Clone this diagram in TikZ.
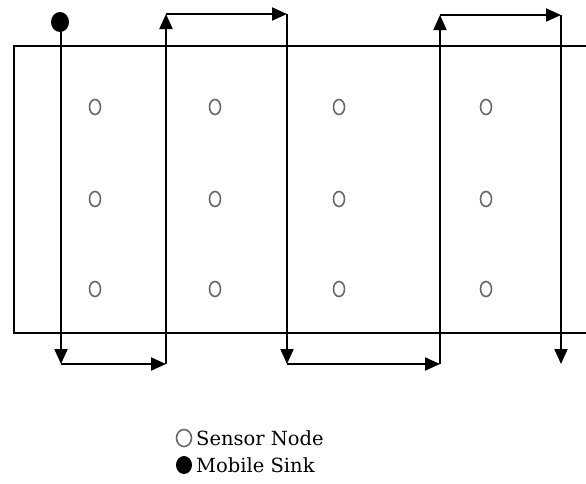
\documentclass[tikz,border=0pt]{standalone}
\usepackage{fontspec}
\setmainfont{DejaVu Serif}
\usetikzlibrary{arrows.meta,shapes.geometric}
\begin{document}
\begin{tikzpicture}[x=1pt,y=-1pt,
  path/.style={line width=2pt,-{Triangle[length=15pt,width=13pt]}},
  sensor/.style={ellipse,draw=black!60,line width=1.6pt,minimum width=11pt,minimum height=15pt,inner sep=0pt},
  sink/.style={ellipse,fill=black,minimum width=18pt,minimum height=20pt,inner sep=0pt},
  legsensor/.style={ellipse,draw=black!60,line width=1.6pt,minimum width=15pt,minimum height=17pt,inner sep=0pt},
  legsink/.style={ellipse,fill=black,minimum width=16pt,minimum height=18pt,inner sep=0pt},
  legtext/.style={anchor=base west,inner sep=0pt,font=\fontsize{19.5}{22}\selectfont}]
\useasboundingbox (0,0) rectangle (586,483);
% field
\draw[line width=1.8pt] (586,46) -- (14,46) -- (14,333) -- (586,333);
% sensors
\foreach \x [count=\i] in {95,215,339,486}{
  \foreach \y [count=\j] in {107,199,289}{
    \node[sensor] (s\i\j) at (\x,\y) {};
  }
}
% path
\coordinate (c1) at (61,364);
\coordinate (c2) at (166,364);
\coordinate (c3) at (166,14);
\coordinate (c4) at (287,14);
\coordinate (c5) at (287,364);
\coordinate (c6) at (440,364);
\coordinate (c7) at (440,15);
\coordinate (c8) at (561,15);
\coordinate (c9) at (561,364);
\node[sink] (sink) at (60,22) {};
\draw[path] (61,22) -- (c1);
\draw[path] (c1) -- (c2);
\draw[path] (c2) -- (c3);
\draw[path] (c3) -- (c4);
\draw[path] (c4) -- (c5);
\draw[path] (c5) -- (c6);
\draw[path] (c6) -- (c7);
\draw[path] (c7) -- (c8);
\draw[path] (c8) -- (c9);
% legend
\node[legsensor] (ls) at (184,438) {};
\node[legtext] (lst) at (196,445) {Sensor Node};
\node[legsink] (lk) at (184,465) {};
\node[legtext] (lkt) at (196,472) {Mobile Sink};
\end{tikzpicture}
\end{document}
